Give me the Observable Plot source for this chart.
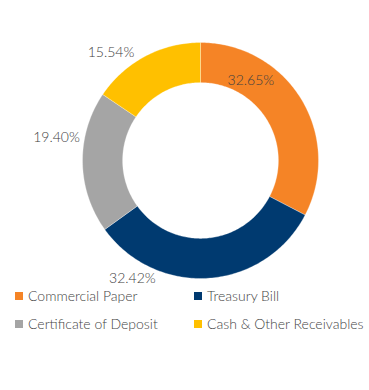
<!DOCTYPE html>
<html>
<head>
<meta charset="utf-8">
<script src="https://cdn.jsdelivr.net/npm/d3@7"></script>
<script src="https://cdn.jsdelivr.net/npm/@observablehq/plot@0.6"></script>
<style>
  html, body { margin: 0; padding: 0; background: #fff; }
  #wrap { position: relative; width: 369px; height: 390px; font-family: Lato, "Open Sans", sans-serif; }
  #chart { position: absolute; left: 0; top: 0; }
  .lg { position: absolute; display: flex; align-items: center; font-size: 14px; color: #444; font-weight: 300; white-space: nowrap; }
  .sw { width: 8px; height: 8px; margin-right: 5px; flex: none; }
</style>
</head>
<body>
<div id="wrap"><div id="chart"></div></div>
<script>
// ---- data ----
const categories = ["Commercial Paper", "Treasury Bill", "Certificate of Deposit", "Cash & Other Receivables"];
const values = [32.65, 32.42, 19.40, 15.54];
const valueLabels = ["32.65%", "32.42%", "19.40%", "15.54%"];

// ---- styles / layout (not data) ----
const colors = ["#F58426", "#003A70", "#A5A5A5", "#FFC000"];
const outerR = 1, innerR = 0.66;
// label placement: angle (deg clockwise from top) and radius factor
const labelAngle = [32.3, 210, 279.1, 320.4];
const labelRadius = [0.80, 1.154, 1.236, 1.19];

const W = 369, H = 285;
const cx = 200, cy = 160, Rpx = 118;

// build slice polygons from values
const total = d3.sum(values);
const pts = [];
let acc = 0;
values.forEach((v, i) => {
  const a0 = acc / total * 2 * Math.PI;
  acc += v;
  const a1 = acc / total * 2 * Math.PI;
  const n = Math.max(8, Math.ceil((a1 - a0) / (Math.PI / 180)));
  const ring = [];
  for (let k = 0; k <= n; k++) {
    const a = a0 + (a1 - a0) * k / n;
    ring.push({cat: categories[i], x: outerR * Math.sin(a), y: outerR * Math.cos(a)});
  }
  for (let k = n; k >= 0; k--) {
    const a = a0 + (a1 - a0) * k / n;
    ring.push({cat: categories[i], x: innerR * Math.sin(a), y: innerR * Math.cos(a)});
  }
  ring.push(ring[0]);
  pts.push(...ring);
});

const labelData = categories.map((c, i) => {
  const a = labelAngle[i] * Math.PI / 180;
  return {cat: c, text: valueLabels[i], x: labelRadius[i] * Math.sin(a), y: labelRadius[i] * Math.cos(a)};
});

const chart = Plot.plot({
  width: W, height: H,
  margin: 0,
  style: {background: "#fff", fontFamily: "Lato, 'Open Sans', sans-serif"},
  x: {domain: [-cx / Rpx, (W - cx) / Rpx], axis: null},
  y: {domain: [-(H - cy) / Rpx, cy / Rpx], axis: null},
  color: {domain: categories, range: colors},
  marks: [
    Plot.line(pts, {x: "x", y: "y", z: "cat", fill: "cat", stroke: "white", strokeWidth: 0.5, strokeOpacity: 0.6, curve: "linear"}),
    Plot.text(labelData, {x: "x", y: "y", text: "text", fontSize: 14, fill: "#404040", fontWeight: 300})
  ]
});
document.getElementById("chart").appendChild(chart);

// legend
const wrap = document.getElementById("wrap");
const legendPos = [[15, 295.5], [194, 295.5], [15, 323.5], [194, 323.5]];
const legendOrder = [0, 1, 2, 3];
legendOrder.forEach((i, k) => {
  const d = document.createElement("div");
  d.className = "lg";
  d.style.left = legendPos[k][0] + "px";
  d.style.top = (legendPos[k][1] - 10) + "px";
  d.style.height = "20px";
  const s = document.createElement("span");
  s.className = "sw";
  s.style.background = colors[i];
  const t = document.createElement("span");
  t.textContent = categories[i];
  d.appendChild(s); d.appendChild(t);
  wrap.appendChild(d);
});
</script>
</body>
</html>
